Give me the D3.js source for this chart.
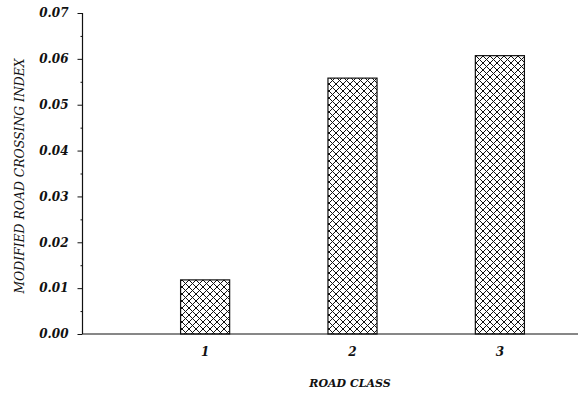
<!DOCTYPE html>
<html><head><meta charset="utf-8">
<script src="https://cdn.jsdelivr.net/npm/d3@7"></script>
<style>body{margin:0;background:#fff}svg{display:block}</style>
</head><body>
<script>
const categories = ["1", "2", "3"];
const values = [0.0118, 0.0558, 0.0607];
const yTicks = [0, 0.01, 0.02, 0.03, 0.04, 0.05, 0.06, 0.07];
const yMinorTicks = [0.005, 0.015, 0.025, 0.035, 0.045, 0.055, 0.065];
const xTitle = "ROAD CLASS";
const yTitle = "MODIFIED ROAD CROSSING INDEX";

const W = 579, H = 395;
const svg = d3.select("body").append("svg").attr("width", W).attr("height", H);
const defs = svg.append("defs");
const pat = defs.append("pattern").attr("id", "hatch").attr("patternUnits", "userSpaceOnUse")
  .attr("width", 7).attr("height", 7).attr("x", 0).attr("y", 0);
pat.append("path").attr("d", "M0,0L7,7M7,0L0,7M-1,6L1,8M6,-1L8,1M-1,1L1,-1M6,8L8,6")
  .attr("stroke", "#111").attr("stroke-width", 1).attr("fill", "none");

const x0 = 82.5, yBase = 334;
const y = d3.scaleLinear().domain([0, 0.07]).range([yBase, 13]);
const x = d3.scaleBand().domain(categories).range([131.5, 573.5]).paddingInner(0.667).paddingOuter(0.333);

const font = "'DejaVu Serif', 'Liberation Serif', serif";

// bars
svg.selectAll("rect.bar").data(values).enter().append("rect")
  .attr("x", (d, i) => x(categories[i]))
  .attr("y", d => y(d))
  .attr("width", x.bandwidth())
  .attr("height", d => yBase - y(d))
  .attr("fill", "url(#hatch)")
  .attr("stroke", "#111").attr("stroke-width", 1.2);

// y axis
const yAxis = d3.axisLeft(y).tickValues(yTicks).tickFormat(d3.format(".2f")).tickSize(5).tickPadding(9);
const gy = svg.append("g").attr("transform", `translate(${x0},0)`).call(yAxis);
gy.select(".domain").attr("stroke", "#111").attr("stroke-width", 1.2).attr("d", `M0,${y(0.07)}H0V${yBase}`);
gy.selectAll(".tick line").attr("stroke", "#111").attr("stroke-width", 1);
gy.selectAll(".tick text").attr("font-family", font).attr("font-style", "italic").attr("font-weight", "bold")
  .attr("font-size", 12).attr("fill", "#111");
const yMinor = d3.axisLeft(y).tickValues(yMinorTicks).tickSize(2).tickFormat("");
const gym = svg.append("g").attr("transform", `translate(${x0},0)`).call(yMinor);
gym.select(".domain").remove();
gym.selectAll(".tick line").attr("stroke", "#111");

// x axis
const xAxis = d3.axisBottom(x).tickSize(0).tickPadding(13);
const gx = svg.append("g").attr("transform", `translate(0,${yBase})`).call(xAxis);
gx.select(".domain").attr("d", `M${x0},0H578`).attr("stroke", "#111").attr("stroke-width", 1.2);
gx.selectAll(".tick text").attr("font-family", font).attr("font-style", "italic").attr("font-weight", "bold")
  .attr("font-size", 12).attr("fill", "#111");

// titles
svg.append("text").attr("x", 350).attr("y", 387).attr("text-anchor", "middle")
  .attr("font-family", font).attr("font-style", "italic").attr("font-weight", "bold")
  .attr("font-size", 11).attr("fill", "#111").text(xTitle);
svg.append("text").attr("transform", "translate(24,176) rotate(-90)").attr("text-anchor", "middle")
  .attr("font-family", font).attr("font-style", "italic")
  .attr("font-size", 12.4).attr("fill", "#111").text(yTitle);
</script>
</body></html>
